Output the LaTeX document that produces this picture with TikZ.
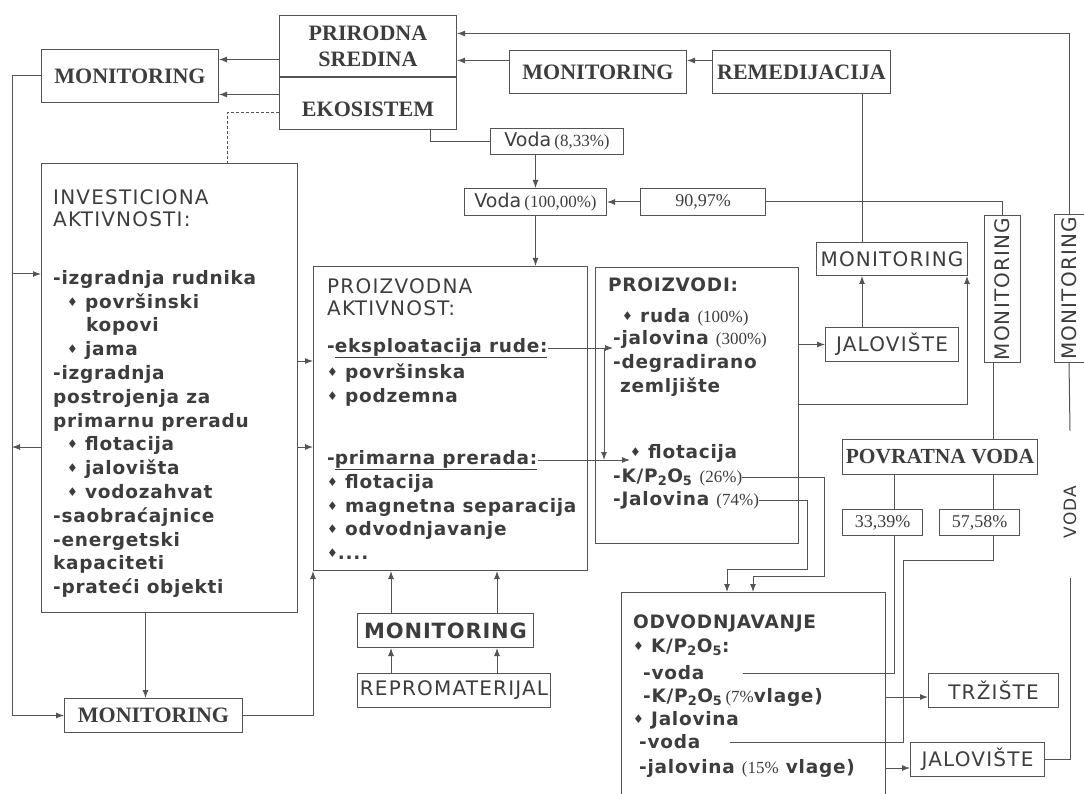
\documentclass[tikz,border=0pt]{standalone}
\usepackage{fontspec}
\setmainfont{DejaVu Sans}
\newfontfamily\capsans[LetterSpace=6]{DejaVu Sans}
\newfontfamily\listsans[LetterSpace=4]{DejaVu Sans}
\newfontfamily\timesf{Liberation Serif}
\usetikzlibrary{arrows.meta,positioning}
\definecolor{linec}{gray}{0.33}
\definecolor{txt}{gray}{0.24}
\newcommand\fsz[2]{\fontsize{#1}{#2}\selectfont}
\newcommand\dm{{\fsz{12}{12}\raisebox{2pt}{♦}}}
\newcommand\pct[1]{{\timesf\mdseries\fsz{17}{17}#1}}

\begin{document}
\begin{tikzpicture}[x=1pt,y=-1pt]

      \tikzstyle{framebox}=[rectangle,draw=linec,line width=1pt,
        inner sep=0pt,text=txt,align=center]
      \tikzstyle{serifbox}=[framebox,font=\timesf\bfseries\fsz{22}{26}]
      \tikzstyle{sansbox}=[framebox,font=\capsans\fsz{20}{20}]
      \tikzstyle{pctbox}=[framebox,font=\timesf\fsz{18}{18}]
      \tikzstyle{listtext}=[inner sep=0pt,text=txt,align=left,
        font=\listsans\bfseries\fsz{18.5}{23.8}]
      \tikzstyle{headtext}=[inner sep=0pt,text=txt,align=left,
        font=\capsans\fsz{20}{22.5}]
      \tikzstyle{wire}=[line width=1pt,draw=linec]
      \tikzstyle{feed}=[wire,-{Latex[length=8pt,width=6pt]}]

      \useasboundingbox (0,0) rectangle (1084,794);

      \node(prir)[serifbox,anchor=north west,minimum width=177pt,
        minimum height=61pt] at (279,15){PRIRODNA\\SREDINA};
      \node(eko)[serifbox,below=0pt of prir,minimum width=177pt,
        minimum height=52pt]{\raisebox{-6pt}[\height][\depth]{EKOSISTEM}};
      \node(monA)[serifbox,anchor=north west,minimum width=177pt,
        minimum height=53pt] at (41,49){MONITORING};
      \node(monB)[serifbox,anchor=north west,minimum width=177pt,
        minimum height=43pt] at (509,50){MONITORING};
      \node(remed)[serifbox,right=25pt of monB,minimum width=178pt,
        minimum height=43pt]{REMEDIJACIJA};

      \node(vodaA)[framebox,anchor=north west,minimum width=133pt,
        minimum height=26pt] at (490,128)
        {{\fsz{19}{19}Voda} \pct{(8,33\%)}};
      \node(vodaB)[framebox,anchor=north west,minimum width=142pt,
        minimum height=27pt] at (464,188)
        {{\fsz{19}{19}Voda} \pct{(100,00\%)}};
      \node(p9097)[pctbox,right=33pt of vodaB,minimum width=125pt,
        minimum height=27pt]{90,97\%};

      \node(monC)[sansbox,anchor=north west,minimum width=151pt,
        minimum height=33pt] at (816,242){MONITORING};
      \node(jalA)[sansbox,anchor=north west,minimum width=133pt,
        minimum height=34pt] at (825,327){JALOVIŠTE};
      \node(monV1)[sansbox,rotate=90,minimum width=146pt,
        minimum height=36pt] at (1002,289){MONITORING};
      \node(monV2)[sansbox,rotate=90,minimum width=147pt,
        minimum height=30pt] at (1069,288.5){MONITORING};

      \node(povrat)[serifbox,font=\timesf\bfseries\fsz{21.5}{22},
        anchor=north west,minimum width=195pt,minimum height=35pt]
        at (842,439){POVRATNA VODA};
      \node(pA)[pctbox,anchor=north west,minimum width=80pt,
        minimum height=26pt] at (842,509){33,39\%};
      \node(pB)[pctbox,right=16pt of pA,minimum width=80pt,
        minimum height=26pt]{57,58\%};
      \node(vodalbl)[inner sep=0pt,text=txt,font=\capsans\fsz{17}{17},
        rotate=90] at (1070,512){VODA};

      \node(invest)[framebox,anchor=north west,minimum width=256pt,
        minimum height=449pt] at (41,163){};
      \node(invhead)[headtext,anchor=north west] at (53,189)
        {INVESTICIONA\\AKTIVNOSTI:};
      \node(invlist)[listtext,anchor=north west] at (53,270)
        {-izgradnja rudnika\\
        \hspace*{14pt}\dm\ površinski\\
        \hspace*{33pt}kopovi\\
        \hspace*{14pt}\dm\ jama\\
        -izgradnja\\
        postrojenja za\\
        primarnu preradu\\
        \hspace*{14pt}\dm\ flotacija\\
        \hspace*{14pt}\dm\ jalovišta\\
        \hspace*{14pt}\dm\ vodozahvat\\
        -saobraćajnice\\
        -energetski\\
        kapaciteti\\
        -prateći objekti};

      \node(proizvodna)[framebox,anchor=north west,minimum width=274pt,
        minimum height=304pt] at (313,266){};
      \node(pzhead)[headtext,anchor=north west] at (327,278)
        {PROIZVODNA\\AKTIVNOST:};
      \node(eksp)[listtext,anchor=west] at (327,348)
        {-\underline{eksploatacija rude:}};
      \node(eksplist)[listtext,anchor=north west] at (327,364)
        {\dm\ površinska\\\dm\ podzemna};
      \node(prim)[listtext,anchor=west] at (327,460)
        {-\underline{primarna prerada:}};
      \node(primlist)[listtext,anchor=north west] at (327,474)
        {\dm\ flotacija\\\dm\ magnetna separacija\\
        \dm\ odvodnjavanje\\\dm....};

      \node(proizvodi)[framebox,anchor=north west,minimum width=203pt,
        minimum height=276pt] at (595,267){};
      \node(pdhead)[listtext,anchor=west] at (608,285){PROIZVODI:};
      \node(ruda)[listtext,anchor=west] at (622,317)
        {\dm\ ruda \pct{(100\%)}};
      \node(jal300)[listtext,anchor=west] at (613,339)
        {-jalovina \pct{(300\%)}};
      \node(degr)[listtext,anchor=north west] at (613,354)
        {-degradirano\\\hspace*{7pt}zemljište};
      \node(flot)[listtext,anchor=west] at (630,453){\dm\ flotacija};
      \node(kp26)[listtext,anchor=west] at (613,477)
        {-K/P\textsubscript{2}O\textsubscript{5} \pct{(26\%)}};
      \node(jal74)[listtext,anchor=west] at (613,500)
        {-Jalovina \pct{(74\%)}};

      \node(odvod)[framebox,anchor=north west,minimum width=264pt,
        minimum height=215pt] at (621,592){};
      \node(odhead)[listtext,anchor=west] at (633,623){ODVODNJAVANJE};
      \node(odkp)[listtext,anchor=west] at (633,647)
        {\dm\ K/P\textsubscript{2}O\textsubscript{5}:};
      \node(odvA)[listtext,anchor=west] at (643,673){-voda};
      \node(odkp7)[listtext,anchor=west] at (643,697)
        {-K/P\textsubscript{2}O\textsubscript{5}\,\pct{(7\%}vlage)};
      \node(odjal)[listtext,anchor=west] at (633,720){\dm\ Jalovina};
      \node(odvB)[listtext,anchor=west] at (639,742){-voda};
      \node(odj15)[listtext,anchor=west] at (639,768)
        {-jalovina \pct{(15\%} vlage)};

      \node(trziste)[sansbox,anchor=north west,minimum width=130pt,
        minimum height=34pt] at (928,673){TRŽIŠTE};
      \node(jalB)[sansbox,anchor=north west,minimum width=134pt,
        minimum height=34pt] at (910,742){JALOVIŠTE};

      \node(monD)[framebox,font=\listsans\bfseries\fsz{21}{21},
        anchor=north west,minimum width=176pt,minimum height=34pt]
        at (357,613){MONITORING};
      \node(reprom)[sansbox,anchor=north west,minimum width=193pt,
        minimum height=34pt] at (357,673){REPROMATERIJAL};
      \node(monE)[serifbox,anchor=north west,minimum width=178pt,
        minimum height=34pt] at (64,698){MONITORING};

      \coordinate (lline) at (12,0);
      \coordinate (invA) at ([yshift=-111pt]invest.north west);
      \coordinate (invB) at ([yshift=-284pt]invest.north west);
      \coordinate (invC) at ([yshift=-198pt]invest.north east);
      \coordinate (invD) at ([yshift=-284pt]invest.north east);
      \coordinate (invE) at ([xshift=-24pt]invest.south);
      \coordinate (prTop) at ([yshift=12.5pt]prir.east);
      \coordinate (prMid) at ([yshift=-14.5pt]prir.east);
      \coordinate (prLeft) at ([yshift=-13.5pt]prir.west);
      \coordinate (ekLeft) at ([yshift=9pt]eko.west);
      \coordinate (ekDot) at ([yshift=-9pt]eko.west);
      \coordinate (pdE) at ([yshift=-137pt]proizvodi.north east);
      \coordinate (colA) at (391,0);
      \coordinate (colB) at (497,0);
      \coordinate (colC) at (993,0);
      \coordinate (colD) at (862,0);
      \coordinate (colE) at (430,0);
      \coordinate (colH) at (894,0);
      \coordinate (jvA) at (903,560);
      \coordinate (sp) at (604,348);
      \coordinate (kpA) at (824,576);
      \coordinate (kpB) at (753,0);
      \coordinate (jlA) at (807,569);
      \coordinate (jlB) at (727,0);

      \draw [feed] (monA.west) -| (lline |- monE.west) -- (monE.west);
      \draw [feed] (lline |- invA) -- (invA);
      \draw [feed] (invB) -- (lline |- invB);
      \draw [feed] (invC) -- (invC -| proizvodna.west);
      \draw [feed] (invD) -- (invD -| proizvodna.west);
      \draw [feed] (invE) -- (invE |- monE.north);
      \draw [feed] (monE.east) -| (proizvodna.south west);

      \draw [feed] (prLeft) -- (prLeft -| monA.east);
      \draw [feed] (ekLeft) -- (ekLeft -| monA.east);
      \draw [wire,densely dashed] (ekDot) -| ([xshift=58pt]invest.north);
      \draw [feed] (prMid -| monB.west) -- (prMid);
      \draw [feed] (prMid -| remed.west) -- (prMid -| monB.east);
      \draw [feed] (monV2.east) |- (prTop);

      \draw [wire] (remed.south -| colD) -- (monC.north -| colD);
      \draw [feed] (jalA.north -| colD) -- (monC.south -| colD);
      \draw [feed] (pdE) -| ([xshift=-1pt]monC.south east);
      \draw [feed] (proizvodi.east |- jalA.west) -- (jalA.west);

      \draw [wire] (eko.south -| colE) |- (vodaA.west);
      \draw [feed] (vodaA.south -| vodaB.north) -- (vodaB.north);
      \draw [feed] (vodaB.south) -- (vodaB.south |- proizvodna.north);
      \draw [feed] (p9097.west) -- (vodaB.east);
      \draw [wire] (p9097.east) -| (monV1.east);
      \draw [wire] (monV1.west -| colC) -- (povrat.north -| colC);
      \draw [wire] (povrat.south -| colC) -- (pB.north -| colC);
      \draw [wire] (povrat.south -| colH) -- (pA.north -| colH);
      \draw [wire] ([xshift=38pt]odvA.east) -| (pA.south -| colH);
      \draw [wire] ([xshift=29pt]odvB.east) -| (jvA) -| (pB.south -| colC);
      \draw [feed] (odvod.east |- odkp7) -- (trziste.west |- odkp7);
      \draw [feed] (odvod.east |- odj15) -- (jalB.west |- odj15);
      \draw [wire] (jalB.east) -| ([yshift=-40pt]vodalbl.west);
      \draw [wire] ([yshift=55pt]vodalbl.east) -- (monV2.west);

      \draw [feed] (eksp.east) -- (eksp.east -| jal300.west);
      \draw [feed] (sp) -- (sp |- prim.east);
      \draw [feed] (prim.east) -- (prim.east -| flot.west);
      \draw [feed] (kp26.east) -| (kpA) -| (odvod.north -| kpB);
      \draw [feed] (jal74.east) -| (jlA) -| (odvod.north -| jlB);

      \draw [feed] (reprom.north -| colA) -- (monD.south -| colA);
      \draw [feed] (reprom.north -| colB) -- (monD.south -| colB);
      \draw [feed] (monD.north -| colA) -- (proizvodna.south -| colA);
      \draw [feed] (monD.north -| colB) -- (proizvodna.south -| colB);

    \end{tikzpicture}
\end{document}
